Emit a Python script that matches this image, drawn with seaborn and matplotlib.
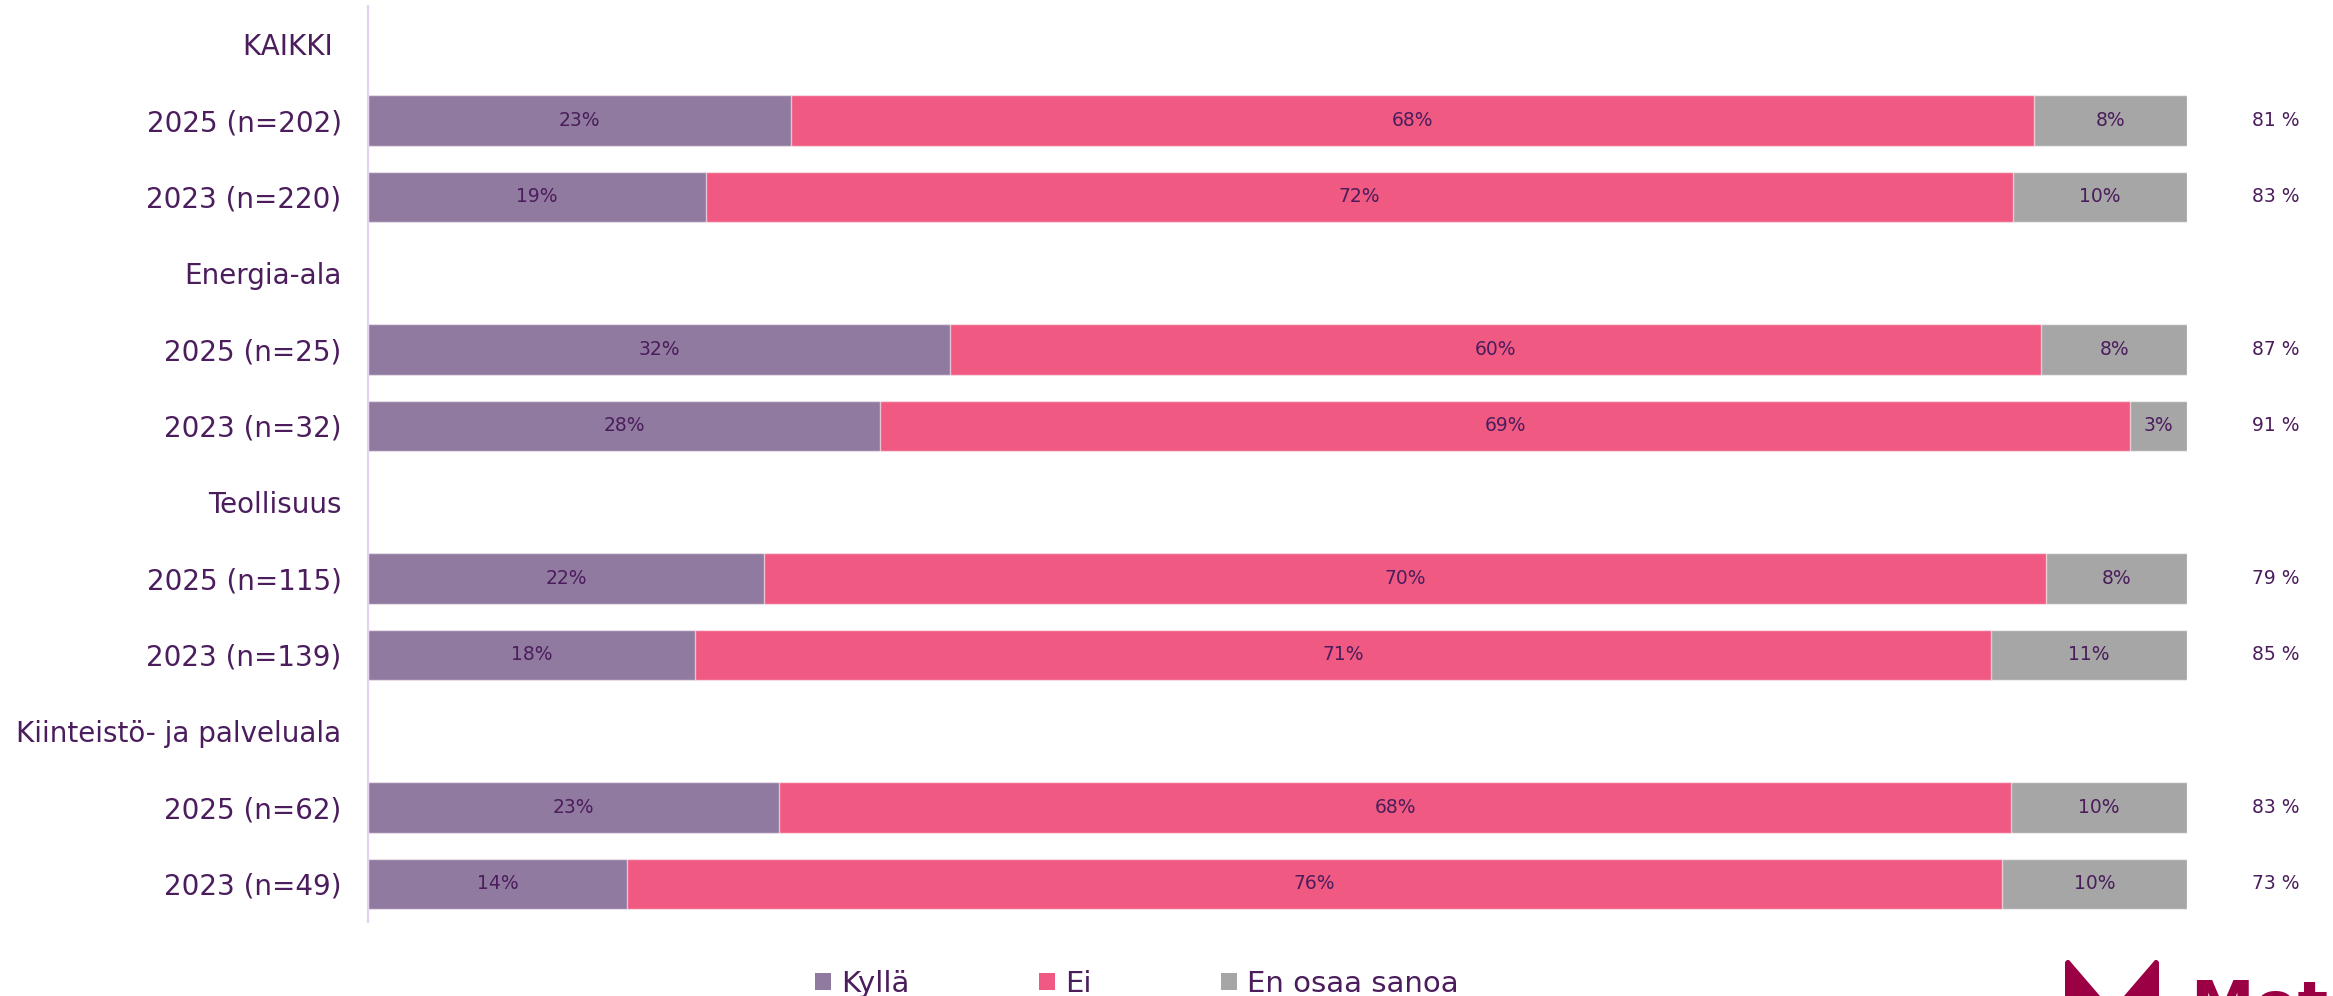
import pandas as pd
import matplotlib.pyplot as plt
import seaborn as sns
from matplotlib.patches import Patch, Polygon

# Data (share of respondents, %)
groups = ['KAIKKI ', 'Energia-ala', 'Teollisuus', 'Kiinteistö- ja palveluala']
rows = [
    '2025 (n=202)', '2023 (n=220)',
    '2025 (n=25)', '2023 (n=32)',
    '2025 (n=115)', '2023 (n=139)',
    '2025 (n=62)', '2023 (n=49)',
]
kylla = [23.24, 18.58, 32.0, 28.15, 21.77, 18.0, 22.59, 14.24]
ei = [68.33, 71.85, 60.0, 68.74, 70.46, 71.2, 67.76, 75.61]
eos = [8.43, 9.57, 8.0, 3.11, 7.77, 10.8, 9.65, 10.15]
right_values = ['81 %', '83 %', '87 %', '91 %', '79 %', '85 %', '83 %', '73 %']

series_names = ['Kyllä', 'Ei', 'En osaa sanoa']
colors = {'Kyllä': '#917AA0', 'Ei': '#F05A82', 'En osaa sanoa': '#A6A6A6'}
text_color = '#4B1D5C'

# Order of y categories: a header row before each pair of bars
order = []
for i, g in enumerate(groups):
    order += [g, rows[2 * i], rows[2 * i + 1]]

df = pd.DataFrame({'label': rows, 'kylla': kylla, 'ei': ei, 'eos': eos})
df['c_kylla'] = df['kylla']
df['c_ei'] = df['kylla'] + df['ei']
df['c_all'] = df['kylla'] + df['ei'] + df['eos']

sns.set_style('white')
plt.rcParams['font.family'] = ['DejaVu Sans']

fig = plt.figure(figsize=(23.33, 9.96), dpi=100)
ax = fig.add_axes([368 / 2333, 74 / 996, 1819 / 2333, 916 / 996])

# Stacked bars by overlaying cumulative totals
for col, name in [('c_all', 'En osaa sanoa'), ('c_ei', 'Ei'), ('c_kylla', 'Kyllä')]:
    sns.barplot(data=df, y='label', x=col, order=order, orient='h',
                color=colors[name], width=0.66, edgecolor=(1, 1, 1, 0.6),
                linewidth=1, saturation=1, ax=ax)

ax.set_xlim(0, df['c_all'].max())
ax.set_ylim(len(order) - 0.5, -0.5)
ax.set_xlabel('')
ax.set_ylabel('')
ax.set_xticks([])
ax.tick_params(axis='y', length=0, pad=19, labelsize=20, labelcolor=text_color)

for s in ['top', 'right', 'bottom']:
    ax.spines[s].set_visible(False)
ax.spines['left'].set_color('#E2D3EE')
ax.spines['left'].set_linewidth(1.6)

# Segment labels and the value column on the right
for _, r in df.iterrows():
    y = order.index(r['label'])
    starts = [0, r['kylla'], r['kylla'] + r['ei']]
    for start, val in zip(starts, [r['kylla'], r['ei'], r['eos']]):
        ax.text(start + val / 2, y, f'{round(val)}%', ha='center', va='center',
                fontsize=13.5, color=text_color)
for lab, val in zip(rows, right_values):
    ax.text(104.9, order.index(lab), val, ha='center', va='center',
            fontsize=13.5, color=text_color, clip_on=False)

# Legend
handles = [Patch(facecolor=colors[n], edgecolor='none') for n in series_names]
fig.legend(handles, series_names, loc='lower left', bbox_to_anchor=(815 / 2333, -0.002),
           ncol=3, frameon=False, fontsize=21, labelcolor=text_color,
           handlelength=0.55, handleheight=0.55, handletextpad=0.34,
           columnspacing=4.45, borderpad=0, borderaxespad=0)

# Logo, cut off at the bottom edge
pts = [(2065, 962), (2067, 960), (2069, 960), (2112, 1010), (2155, 960),
       (2157, 960), (2159, 962), (2159, 1010), (2065, 1010)]
fig.add_artist(Polygon([(x / 2333, 1 - y / 996) for x, y in pts], closed=True,
                       facecolor='#9B0045', edgecolor='none',
                       transform=fig.transFigure))
fig.text(2190 / 2333, 1 - 1027 / 996, 'Motiva', fontsize=46, fontweight='bold',
         color='#9B0045', ha='left', va='baseline')

fig.savefig('out.png', dpi=100)
